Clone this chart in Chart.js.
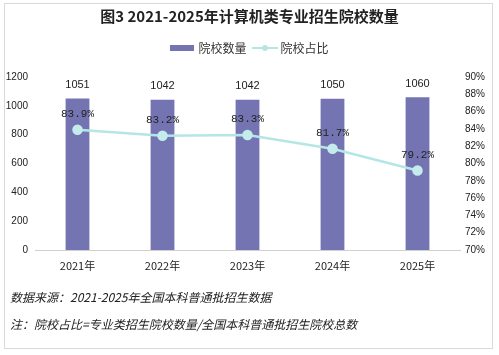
<!DOCTYPE html>
<html><head><meta charset="utf-8">
<script src="https://cdn.jsdelivr.net/npm/chart.js@4"></script>
<style>
html,body{margin:0;padding:0;background:#fff;}
#wrap{position:relative;width:499px;height:355px;overflow:hidden;font-family:"Noto Sans CJK SC",sans-serif;}
#frame{position:absolute;left:4px;top:3px;width:489px;height:346px;border:1px solid #d9d9d9;box-sizing:border-box;}
#title{position:absolute;left:0;width:499px;top:5px;text-align:center;font-size:15px;font-weight:bold;color:#222;}
#legend{position:absolute;left:0;width:499px;top:37px;text-align:center;font-size:12px;color:#333;}
.lg{display:inline-block;vertical-align:middle;}
.note{position:absolute;left:10px;font-size:12px;font-style:italic;color:#222;}
canvas{position:absolute;left:0;top:0;}
</style></head>
<body><div id="wrap">
<div id="frame"></div>
<canvas id="c" width="499" height="355"></canvas>
<div id="title">图3 2021-2025年计算机类专业招生院校数量</div>
<div id="legend"><span class="lg" style="width:24px;height:6px;background:#7474b3;margin-right:4px"></span><span class="lg">院校数量</span><span class="lg" style="width:26px;height:2px;background:#b5e6e6;margin:0 3px 0 5px;position:relative"><span style="position:absolute;left:10px;top:-2px;width:6px;height:6px;border-radius:3px;background:#b5e6e6"></span></span><span class="lg">院校占比</span></div>
<div class="note" style="top:288px">数据来源：2021-2025年全国本科普通批招生数据</div>
<div class="note" style="top:315px">注：院校占比=专业类招生院校数量/全国本科普通批招生院校总数</div>
</div>
<script>
const categories = ["2021年","2022年","2023年","2024年","2025年"];
const schoolCounts = [1051,1042,1042,1050,1060];
const schoolShare = [83.9,83.2,83.3,81.7,79.2];
const leftTicks = [0,200,400,600,800,1000,1200];
const rightTicks = [70,72,74,76,78,80,82,84,86,88,90];

const labelPlugin = {
  id:'labels',
  afterDatasetsDraw(chart){
    const ctx = chart.ctx;
    ctx.save();
    ctx.fillStyle = '#222';
    ctx.textAlign = 'center';
    ctx.textBaseline = 'bottom';
    ctx.font = '11px "Liberation Sans", sans-serif';
    chart.getDatasetMeta(1).data.forEach((el,i)=>{
      ctx.fillText(String(schoolCounts[i]), el.x, el.y-8);
    });
    ctx.font = '11px "Liberation Mono", monospace';
    chart.getDatasetMeta(0).data.forEach((el,i)=>{
      ctx.fillText(schoolShare[i].toFixed(1)+'%', el.x, el.y-10);
    });
    ctx.restore();
  }
};

new Chart(document.getElementById('c'), {
  data:{
    labels:categories,
    datasets:[
      {type:'line', label:'院校占比', data:schoolShare, yAxisID:'y1', borderColor:'#b5e6e6', backgroundColor:'#b5e6e6', borderWidth:2.5, pointRadius:4, pointBackgroundColor:'#c4ecec', pointBorderColor:'#c4ecec', tension:0, order:0},
      {type:'bar', label:'院校数量', data:schoolCounts, yAxisID:'y', backgroundColor:'#7474b3', barPercentage:0.28, categoryPercentage:1, order:1}
    ]
  },
  options:{
    responsive:false, animation:false,
    layout:{padding:{top:77,bottom:80,left:0,right:0}},
    plugins:{legend:{display:false}, title:{display:false}, tooltip:{enabled:false}},
    scales:{
      x:{grid:{display:false, drawTicks:false, tickLength:0}, border:{color:'#d0d0d0'},
         ticks:{color:'#222', font:{size:11, family:'"Noto Sans CJK SC", sans-serif'}, padding:9},
         afterFit(s){s.height=25;}},
      y:{position:'left', min:0, max:1200, grid:{display:false, drawTicks:false, tickLength:0}, border:{display:false},
         afterBuildTicks(s){s.ticks=leftTicks.map(v=>({value:v}));},
         ticks:{color:'#222', font:{size:10, family:'"Liberation Sans", sans-serif'}, padding:7, callback:v=>String(v)},
         afterFit(s){s.width=35;}},
      y1:{position:'right', min:70, max:90, grid:{display:false, drawTicks:false, tickLength:0}, border:{display:false},
         afterBuildTicks(s){s.ticks=rightTicks.map(v=>({value:v}));},
         ticks:{color:'#222', font:{size:10, family:'"Liberation Sans", sans-serif'}, padding:5, callback:v=>v+'%'},
         afterFit(s){s.width=39;}}
    }
  },
  plugins:[labelPlugin]
});
</script>
</body></html>
